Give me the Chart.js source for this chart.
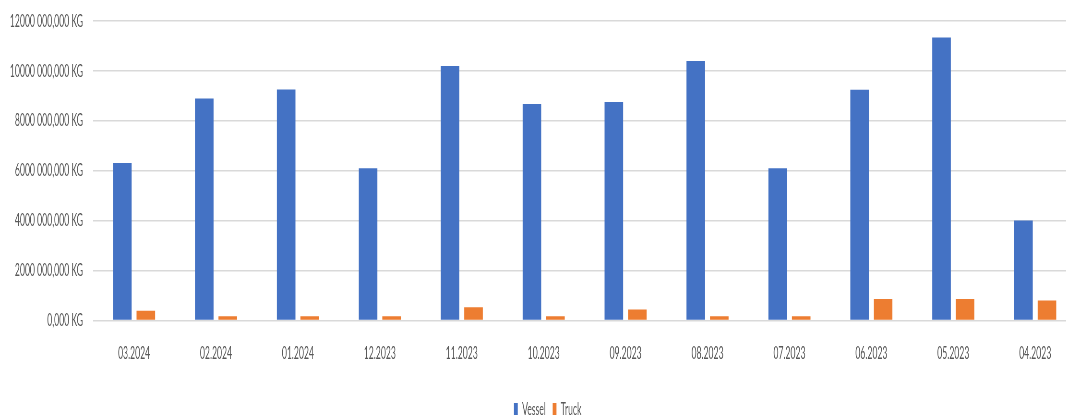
<!DOCTYPE html>
<html>
<head>
<meta charset="utf-8">
<title>Vessel / Truck</title>
<script src="https://cdn.jsdelivr.net/npm/chart.js@4/dist/chart.umd.min.js"></script>
<style>
  html, body { margin: 0; padding: 0; background: #fff; overflow: hidden; }
  #frame { position: relative; width: 1066px; height: 417px; overflow: hidden; }
  /* the reference is horizontally condensed, so draw wide and squeeze */
  #wrap { position: absolute; left: 0; top: -11px; width: 2250px; height: 453px;
          transform: scaleX(0.48); transform-origin: 0 0; }
</style>
</head>
<body>
<div id="frame">
  <div id="wrap"><canvas id="chart" width="2250" height="453"></canvas></div>
</div>
<script>
// months, newest first as in the source sheet
const months = ['03.2024', '02.2024', '01.2024', '12.2023', '11.2023', '10.2023',
                '09.2023', '08.2023', '07.2023', '06.2023', '05.2023', '04.2023'];

// values in axis units (12000 = top tick)
const vessel = [6300, 8890, 9250, 6090, 10190, 8670, 8750, 10390, 6090, 9240, 11330, 4000];
const truck  = [390, 170, 170, 170, 530, 170, 440, 170, 170, 860, 860, 800];

const yTickLabels = ['0,000 KG', '2000 000,000 KG', '4000 000,000 KG', '6000 000,000 KG',
                     '8000 000,000 KG', '10000 000,000 KG', '12000 000,000 KG'];

const textColor = '#595959';
const fontFamily = 'Lato, "Open Sans", sans-serif';

// the legend sits a little right of the canvas centre in the source
const legendShift = {
  id: 'legendShift',
  afterLayout(chart) {
    if (chart.legend) {
      chart.legend.left += 20;
      chart.legend.right += 20;
    }
  }
};

document.addEventListener('DOMContentLoaded', function () {
  const ctx = document.getElementById('chart').getContext('2d');
  new Chart(ctx, {
    type: 'bar',
    data: {
      labels: months,
      datasets: [
        { label: 'Vessel', data: vessel, backgroundColor: '#4472C4',
          categoryPercentage: 0.574, barPercentage: 0.79 },
        { label: 'Truck', data: truck, backgroundColor: '#ED7D31',
          categoryPercentage: 0.574, barPercentage: 0.79 }
      ]
    },
    plugins: [legendShift],
    options: {
      responsive: false,
      animation: false,
      devicePixelRatio: 1,
      layout: { padding: { left: 0, right: 8, top: 9, bottom: 14 } },
      plugins: {
        tooltip: { enabled: false },
        legend: {
          position: 'bottom',
          labels: {
            boxWidth: 8,
            boxHeight: 12,
            padding: 14,
            color: textColor,
            font: { family: fontFamily, size: 18 }
          }
        }
      },
      scales: {
        x: {
          grid: { display: false, drawTicks: false },
          border: { display: false },
          ticks: {
            color: textColor,
            padding: 22,
            maxRotation: 0,
            autoSkip: false,
            font: { family: fontFamily, size: 18 }
          }
        },
        y: {
          min: 0,
          max: 12000,
          afterFit: function (scale) { scale.width = 194; },
          grid: { color: '#d9d9d9', lineWidth: 1.5, drawTicks: false },
          border: { display: false },
          ticks: {
            stepSize: 2000,
            color: textColor,
            padding: 21,
            font: { family: fontFamily, size: 18 },
            callback: function (value, index) { return yTickLabels[index]; }
          }
        }
      }
    }
  });
});
</script>
</body>
</html>
